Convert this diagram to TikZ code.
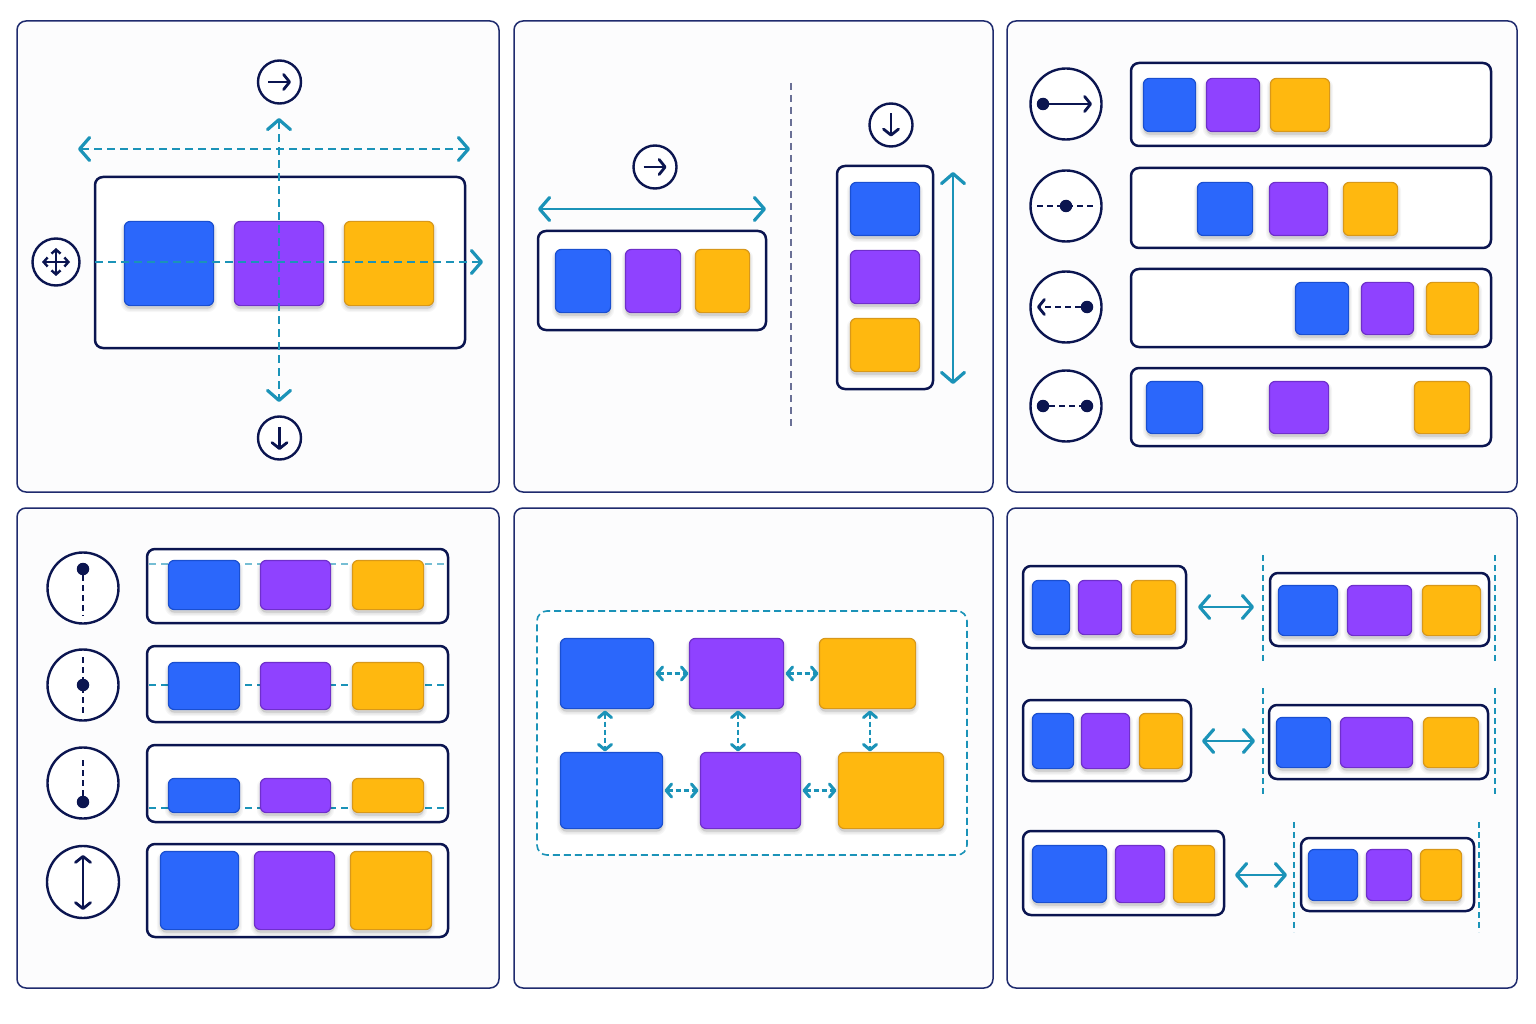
\documentclass[tikz,border=0pt]{standalone}
\usetikzlibrary{arrows.meta,calc}
\definecolor{navy}{HTML}{0B1550}
\definecolor{panelline}{HTML}{1F2B6E}
\definecolor{panelfill}{HTML}{FCFCFD}
\definecolor{teal}{HTML}{1B93B8}
\definecolor{sepgray}{HTML}{6A7096}
\definecolor{blueF}{HTML}{2B67FB}\definecolor{blueD}{HTML}{1A4FD0}
\definecolor{purF}{HTML}{8F42FF}\definecolor{purD}{HTML}{6F2FCB}
\definecolor{yelF}{HTML}{FFB80F}\definecolor{yelD}{HTML}{D8981A}
\newcounter{lk}
\tikzset{
  softlayer/.style={preaction={draw=black,fill=black,opacity=.035,line width=#1,transform canvas={yshift=-3pt}}},
  panelbox/.style={draw=panelline,line width=1.5pt,fill=panelfill,rounded corners=9pt,inner sep=0pt,outer sep=0pt},
  framebox/.style={draw=navy,line width=2.5pt,fill=white,rounded corners=8pt,inner sep=0pt,outer sep=0pt},
  cardbase/.style={line width=1.2pt,rounded corners=6pt,inner sep=0pt,outer sep=0pt,
    softlayer=7pt,softlayer=4.5pt,softlayer=2pt},
  bluecard/.style={cardbase,fill=blueF,draw=blueD},
  purcard/.style={cardbase,fill=purF,draw=purD},
  yelcard/.style={cardbase,fill=yelF,draw=yelD},
  iconring/.style={circle,draw=navy,line width=2.4pt,fill=white,inner sep=0pt,outer sep=0pt},
  navydot/.style={circle,fill=navy,inner sep=0pt,outer sep=0pt,minimum size=12.5pt},
  bigtip/.style={{Straight Barb[length=10pt,width=23pt,line width=3.2pt,round]}-{Straight Barb[length=10pt,width=23pt,line width=3.2pt,round]}},
  tealdash/.style={teal,line width=2.4pt,dash pattern=on 8pt off 5pt},
  tealsolid/.style={teal,line width=2.6pt},
  smallarrow/.style={teal,line width=2.4pt,dash pattern=on 5pt off 3pt,
    {Straight Barb[length=5.5pt,width=13pt,line width=3pt,round]}-{Straight Barb[length=5.5pt,width=13pt,line width=3pt,round]}},
  guidedash/.style={teal,line width=1.6pt,dash pattern=on 6pt off 4pt},
  rowdash/.style={teal,line width=1.5pt,dash pattern=on 7pt off 5pt},
  iconline/.style={navy,line width=2.5pt},
  icondash/.style={navy,line width=2.5pt,dash pattern=on 6pt off 4pt},
  itip/.style={-{Straight Barb[length=6pt,width=15pt,line width=2.8pt,round]}},
  itipb/.style={{Straight Barb[length=6pt,width=15pt,line width=2.8pt,round]}-{Straight Barb[length=6pt,width=15pt,line width=2.8pt,round]}},
}
\newcommand{\bx}[6]{\node[#2,minimum width={(#5-#3)*1pt},minimum height={(#6-#4)*1pt}] (#1) at ({(#3+#5)/2},{(#4+#6)/2}) {};}
\newcommand{\bxc}[6]{\node[#2,minimum width={(#5-#3-.8)*1pt},minimum height={(#6-#4-.8)*1pt}] (#1) at ({(#3+#5)/2},{(#4+#6)/2}) {};}
\newcommand{\trio}[9]{\bxc{#1a}{bluecard}{#4}{#2}{#5}{#3}\bxc{#1b}{purcard}{#6}{#2}{#7}{#3}\bxc{#1c}{yelcard}{#8}{#2}{#9}{#3}}
\newcommand{\lnk}[5]{\stepcounter{lk}\coordinate (lk\thelk a) at (#2,#3);\coordinate (lk\thelk b) at (#4,#5);\draw[#1] (lk\thelk a) -- (lk\thelk b);}
\newcommand{\ring}[4]{\node[iconring,minimum size={2*#4*1pt}] (#1) at (#2,#3) {};}
\newcommand{\dotn}[3]{\node[navydot] (#1) at (#2,#3) {};}
\begin{document}
\begin{tikzpicture}[x=1pt,y=-1pt]
\useasboundingbox (0,0) rectangle (1536,1024);
\fill[white] (0,0) rectangle (1536,1024);
% panels
\bx{p1}{panelbox}{17}{21}{499}{492}
\bx{p2}{panelbox}{514}{21}{993}{492}
\bx{p3}{panelbox}{1007}{21}{1517}{492}
\bx{p4}{panelbox}{17}{508}{499}{988}
\bx{p5}{panelbox}{514}{508}{993}{988}
\bx{p6}{panelbox}{1007}{508}{1517}{988}
% ---------- panel 1
\ring{ia}{279.5}{82}{21.5}
\lnk{iconline,itip}{268}{82}{291}{82}
\ring{ib}{279.5}{438}{21.5}
\lnk{iconline,itip}{279.5}{427}{279.5}{450}
\ring{ic}{56}{262}{23.5}
\lnk{iconline,line width=2.2pt,{Straight Barb[length=4pt,width=9pt,line width=2.4pt]}-{Straight Barb[length=4pt,width=9pt,line width=2.4pt]}}{56}{248}{56}{276}
\lnk{iconline,line width=2.2pt,{Straight Barb[length=4pt,width=9pt,line width=2.4pt]}-{Straight Barb[length=4pt,width=9pt,line width=2.4pt]}}{42}{262}{70}{262}
\bx{f1}{framebox}{95}{177}{465}{348}
\trio{c1}{221}{306}{124}{214}{234}{324}{344}{434}
\lnk{tealdash,bigtip}{78}{149}{470}{149}
\lnk{tealdash,bigtip}{279}{118}{279}{402}
\lnk{tealdash,-{Straight Barb[length=10pt,width=23pt,line width=3.2pt,round]}}{95}{262}{483}{262}
% ---------- panel 2
\ring{id}{655}{167}{21.5}
\lnk{iconline,itip}{643.5}{167}{666.5}{167}
\lnk{tealsolid,bigtip}{538}{209}{766}{209}
\bx{f2}{framebox}{538}{231}{766}{330}
\trio{c2}{249}{313}{555}{611}{625}{681}{695}{750}
\lnk{sepgray,line width=1.5pt,dash pattern=on 7pt off 5pt}{791}{83}{791}{428}
\ring{ie}{891}{125}{21.5}
\lnk{iconline,itip}{891}{113.5}{891}{136.5}
\bx{f3}{framebox}{837}{166}{933}{389}
\bxc{c3a}{bluecard}{850}{182}{920}{236}
\bxc{c3b}{purcard}{850}{250}{920}{304}
\bxc{c3c}{yelcard}{850}{318}{920}{372}
\lnk{tealsolid,bigtip}{953}{172}{953}{384}
% ---------- panel 3
\ring{ra}{1066}{104}{35.5}
\dotn{rad}{1043}{104}
\coordinate (rae) at (1092,104);
\draw[iconline,itip] (rad) -- (rae);
\bx{f4}{framebox}{1131}{63}{1491}{146}
\trio{c4}{78}{132}{1143}{1196}{1206}{1260}{1270}{1330}
\ring{rb}{1066}{206}{35.5}
\lnk{icondash}{1037}{206}{1094}{206}
\dotn{rbd}{1066}{206}
\bx{f5}{framebox}{1131}{168}{1491}{248}
\trio{c5}{182}{236}{1197}{1253}{1269}{1328}{1343}{1398}
\ring{rc}{1066}{307}{35.5}
\dotn{rcd}{1087}{307}
\coordinate (rce) at (1037,307);
\draw[icondash,itip] (rcd) -- (rce);
\bx{f6}{framebox}{1131}{269}{1491}{347}
\trio{c6}{282}{335}{1295}{1349}{1361}{1414}{1426}{1479}
\ring{rd}{1066}{406}{35.5}
\dotn{rdl}{1043}{406}
\dotn{rdr}{1087}{406}
\draw[icondash] (rdl) -- (rdr);
\bx{f7}{framebox}{1131}{368}{1491}{446}
\trio{c7}{381}{434}{1146}{1203}{1269}{1329}{1414}{1470}
% ---------- panel 4
\ring{sa}{83}{588}{35.5}
\dotn{sad}{83}{569}
\coordinate (sae) at (83,616);
\draw[icondash] (sad) -- (sae);
\bx{f8}{framebox}{147}{549}{448}{623}
\lnk{rowdash,draw opacity=.6}{149}{564}{446}{564}
\trio{c8}{560}{610}{168}{240}{260}{331}{352}{424}
\ring{sb}{83}{685}{35.5}
\lnk{icondash}{83}{657}{83}{714}
\dotn{sbd}{83}{685}
\bx{f9}{framebox}{147}{646}{448}{722}
\lnk{rowdash}{149}{685}{446}{685}
\trio{c9}{662}{710}{168}{240}{260}{331}{352}{424}
\ring{sc}{83}{783}{35.5}
\dotn{scd}{83}{802}
\coordinate (sce) at (83,756);
\draw[icondash] (scd) -- (sce);
\bx{f10}{framebox}{147}{745}{448}{822}
\lnk{rowdash}{149}{808}{446}{808}
\trio{c10}{778}{813}{168}{240}{260}{331}{352}{424}
\ring{sd}{83}{882}{36}
\lnk{iconline,itipb}{83}{855}{83}{910}
\bx{f11}{framebox}{147}{844}{448}{937}
\trio{c11}{851}{930}{160}{239}{254}{335}{350}{432}
% ---------- panel 5
\bx{g5}{draw=teal,line width=1.6pt,dash pattern=on 7pt off 4pt,fill=white,rounded corners=10pt,inner sep=0pt,outer sep=0pt}{537}{611}{967}{855}
\trio{m}{638}{709}{560}{654}{689}{784}{819}{916}
\trio{n}{752}{829}{560}{663}{700}{801}{838}{944}
\draw[smallarrow,shorten <=2pt,shorten >=1pt] (ma.east) -- (mb.west);
\draw[smallarrow,shorten <=2pt,shorten >=1pt] (mb.east) -- (mc.west);
\draw[smallarrow,shorten <=2pt,shorten >=2pt] (na.east) -- (nb.west);
\draw[smallarrow,shorten <=2pt,shorten >=2pt] (nb.east) -- (nc.west);
\draw[smallarrow,shorten <=2pt,shorten >=1pt] ([xshift=-2pt]ma.south) -- ([xshift=-6.5pt]na.north);
\draw[smallarrow,shorten <=2pt,shorten >=1pt] ([xshift=1.5pt]mb.south) -- ([xshift=-12.5pt]nb.north);
\draw[smallarrow,shorten <=2pt,shorten >=1pt] ([xshift=2.5pt]mc.south) -- ([xshift=-21pt]nc.north);
% ---------- panel 6
\bx{h1}{framebox}{1023}{566}{1186}{648}
\trio{u1}{580}{635}{1032}{1070}{1078}{1122}{1131}{1176}
\lnk{guidedash}{1263}{555}{1263}{662}
\lnk{guidedash}{1495}{555}{1495}{662}
\bx{h2}{framebox}{1270}{573}{1489}{646}
\trio{v1}{585}{636}{1278}{1338}{1347}{1412}{1422}{1481}
\draw[tealsolid,bigtip,shorten <=12pt,shorten >=16pt] (h1.east) -- ([yshift=2.5pt]h2.west);
\bx{h3}{framebox}{1023}{700}{1191}{781}
\trio{u2}{713}{769}{1032}{1074}{1081}{1130}{1139}{1183}
\lnk{guidedash}{1263}{688}{1263}{795}
\lnk{guidedash}{1495}{688}{1495}{795}
\bx{h4}{framebox}{1269}{705}{1488}{779}
\trio{v2}{717}{768}{1276}{1331}{1340}{1413}{1423}{1479}
\draw[tealsolid,bigtip,shorten <=11pt,shorten >=14pt] ([yshift=-.5pt]h3.east) -- ([yshift=1pt]h4.west);
\bx{h5}{framebox}{1023}{831}{1224}{915}
\trio{u3}{845}{903}{1032}{1107}{1115}{1165}{1173}{1215}
\lnk{guidedash}{1294}{822}{1294}{932}
\lnk{guidedash}{1479}{822}{1479}{932}
\bx{h6}{framebox}{1301}{838}{1474}{911}
\trio{v3}{849}{901}{1308}{1358}{1366}{1412}{1420}{1462}
\draw[tealsolid,bigtip,shorten <=11pt,shorten >=14pt] ([yshift=-2pt]h5.east) -- ([yshift=-.5pt]h6.west);
\end{tikzpicture}
\end{document}
